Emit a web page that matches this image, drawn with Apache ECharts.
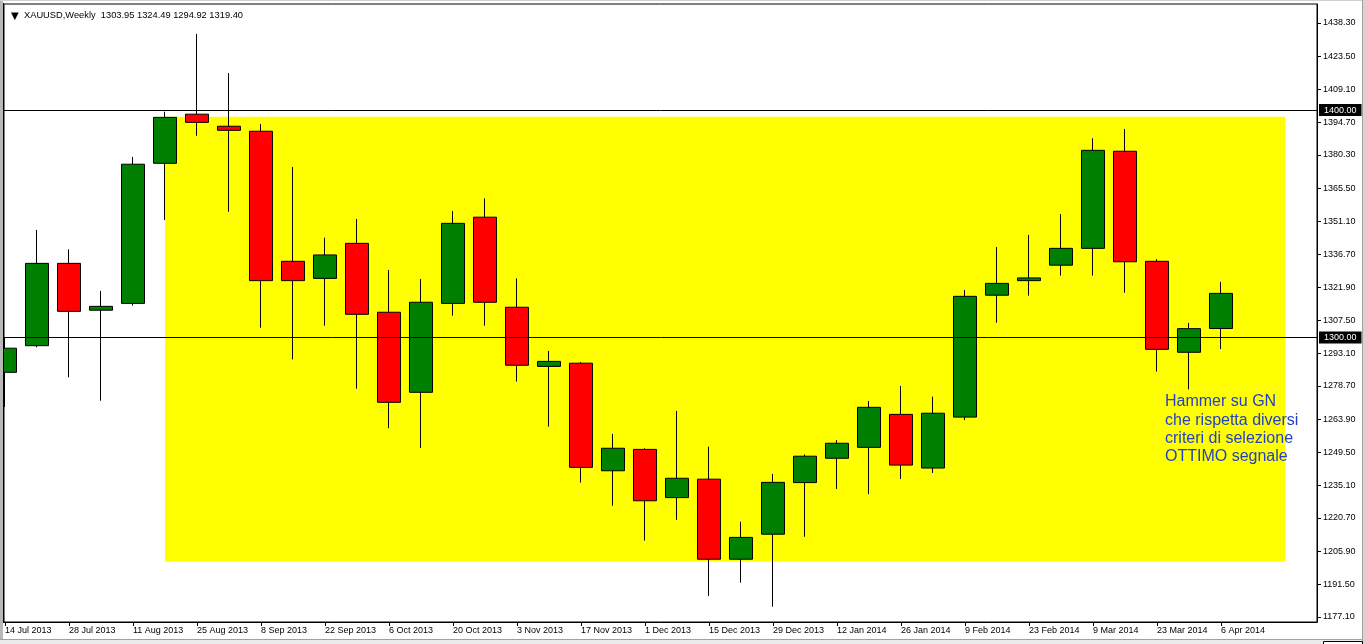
<!DOCTYPE html>
<html><head><meta charset="utf-8">
<script src="https://cdn.jsdelivr.net/npm/echarts@6/dist/echarts.min.js"></script>
<style>html,body{margin:0;padding:0;background:#fff;overflow:hidden}#c{width:1366px;height:644px}</style>
</head><body><div id="c"></div>
<script>
// ---- data ----
const categories = ['14 Jul 2013','21 Jul 2013','28 Jul 2013','4 Aug 2013','11 Aug 2013','18 Aug 2013','25 Aug 2013','1 Sep 2013','8 Sep 2013','15 Sep 2013','22 Sep 2013','29 Sep 2013','6 Oct 2013','13 Oct 2013','20 Oct 2013','27 Oct 2013','3 Nov 2013','10 Nov 2013','17 Nov 2013','24 Nov 2013','1 Dec 2013','8 Dec 2013','15 Dec 2013','22 Dec 2013','29 Dec 2013','5 Jan 2014','12 Jan 2014','19 Jan 2014','26 Jan 2014','2 Feb 2014','9 Feb 2014','16 Feb 2014','23 Feb 2014','2 Mar 2014','9 Mar 2014','16 Mar 2014','23 Mar 2014','30 Mar 2014','6 Apr 2014'];
const opens  = [1284.7,1296.4,1332.6,1312.0,1315.0,1376.6,1398.2,1392.9,1390.7,1333.5,1326.0,1341.4,1311.1,1275.9,1315.0,1352.9,1313.3,1287.3,1288.7,1241.4,1250.8,1229.6,1237.7,1202.5,1213.5,1236.2,1246.9,1251.7,1266.2,1242.6,1265.0,1318.6,1325.0,1331.8,1339.2,1381.9,1333.5,1293.5,1303.95];
const closes = [1295.3,1332.6,1311.5,1313.7,1376.2,1396.8,1394.6,1391.1,1325.0,1325.0,1336.3,1310.2,1271.5,1315.5,1350.2,1315.5,1287.8,1289.5,1242.9,1251.3,1228.2,1238.1,1202.5,1212.1,1236.3,1247.8,1253.5,1269.3,1243.9,1266.7,1318.1,1323.8,1326.2,1339.2,1382.3,1333.3,1294.8,1303.9,1319.40];
const lows   = [1269.4,1295.7,1282.5,1272.2,1314.0,1351.7,1388.7,1355.3,1304.3,1290.4,1305.2,1277.5,1260.1,1251.4,1309.6,1305.2,1280.6,1260.8,1236.2,1226.0,1210.7,1219.8,1186.3,1192.2,1181.6,1212.4,1233.4,1231.1,1237.8,1240.4,1263.7,1306.5,1318.4,1327.2,1327.2,1319.7,1285.0,1277.2,1294.92];
const highs  = [1300.2,1347.3,1338.8,1320.5,1379.4,1399.3,1433.5,1416.3,1393.9,1375.0,1343.9,1352.1,1329.7,1325.7,1355.6,1361.2,1326.0,1294.1,1289.2,1257.6,1251.3,1267.7,1252.0,1219.0,1240.0,1248.6,1254.9,1272.1,1278.7,1274.0,1320.9,1339.8,1345.1,1354.3,1387.6,1391.7,1334.4,1306.4,1324.49];
const yTicks = [1438.30,1423.50,1409.10,1394.70,1380.30,1365.50,1351.10,1336.70,1321.90,1307.50,1293.10,1278.70,1263.90,1249.50,1235.10,1220.70,1205.90,1191.50,1177.10];
const xTickIdx = [0,2,4,6,8,10,12,14,16,18,20,22,24,26,28,30,32,34,36,38];
const levels = [1400.00, 1300.00];
const lastPrice = 1319.40;
const zoneX = [5, 40];
const zoneY = [1397.1, 1201.4];
const noteAt = [36.25, 1275.7];
const noteLines = ['Hammer su GN','che rispetta diversi','criteri di selezione','OTTIMO segnale'];
const headerText = 'XAUUSD,Weekly  1303.95 1324.49 1294.92 1319.40';

// ---- chart ----
const FONT = 'Liberation Sans';
const chart = echarts.init(document.getElementById('c'), null, {renderer:'canvas'});
const candles = categories.map((d,i)=>[i, opens[i], closes[i], lows[i], highs[i]]);

chart.setOption({
  animation:false,
  backgroundColor:'#ffffff',
  title:[
    {text:'▼', left:6, top:6, textStyle:{fontSize:10, fontWeight:'normal', color:'#000', fontFamily:'DejaVu Sans'}},
    {text:headerText, left:19, top:6, textStyle:{fontSize:9.3, fontWeight:'normal', color:'#000', fontFamily:FONT}}
  ],
  grid:{left:4, right:49, top:4, bottom:22, show:true, borderColor:'#000', borderWidth:1, backgroundColor:'transparent'},
  xAxis:{
    type:'value', min:-0.03125, max:41,
    axisLine:{show:true, onZero:false, lineStyle:{color:'#000', width:1}},
    axisTick:{show:true, length:4, inside:false, customValues:xTickIdx, lineStyle:{color:'#000'}},
    axisLabel:{show:true, customValues:xTickIdx, formatter:v=>categories[Math.round(v)]||'', align:'left', margin:4, color:'#000', fontSize:9, fontFamily:FONT},
    splitLine:{show:false}
  },
  yAxis:{
    type:'value', position:'right', min:1174.9, max:1446.65, scale:true,
    axisLine:{show:true, onZero:false, lineStyle:{color:'#000', width:1}},
    axisTick:{show:true, length:4, inside:false, customValues:yTicks, lineStyle:{color:'#000'}},
    axisLabel:{show:true, customValues:yTicks, formatter:v=>Number(v).toFixed(2), margin:6, color:'#000', fontSize:9, fontFamily:FONT},
    splitLine:{show:false}
  },
  series:[
    {
      type:'scatter', data:[], z:1, silent:true,
      markArea:{silent:true, itemStyle:{color:'#ffff00', opacity:1}, data:[[{xAxis:zoneX[0], yAxis:zoneY[0]},{xAxis:zoneX[1], yAxis:zoneY[1]}]]}
    },
    {
      type:'scatter', data:[], z:2, silent:true,
      markLine:{
        silent:true, symbol:'none', animation:false,
        lineStyle:{color:'#000', width:1, type:'solid'},
        label:{show:true, position:'end', distance:2, formatter:p=>Number(p.value).toFixed(2),
          backgroundColor:'#000', color:'#fff', fontSize:9, fontFamily:FONT, padding:[2,5,1,5]},
        data: levels.map(v=>({yAxis:v})).concat([{yAxis:lastPrice, lineStyle:{opacity:0}}])
      }
    },
    {
      type:'candlestick', z:3, data:candles, barWidth:23, clip:true, silent:true,
      itemStyle:{color:'#008000', color0:'#ff0000', borderColor:'#000', borderColor0:'#000', borderWidth:1}
    },
    {
      type:'scatter', data:[], z:4, silent:true,
      markPoint:{
        silent:true, symbol:'circle', symbolSize:0,
        data:[{coord:noteAt, value:0}],
        label:{show:true, position:[0,0], align:'left', verticalAlign:'top', formatter:noteLines.join('\n'),
          color:'#2341c6', fontSize:16, lineHeight:18.3, fontFamily:FONT}
      }
    }
  ],
  graphic:[
    {type:'rect', left:0, top:0, shape:{width:3, height:644}, style:{fill:'#b8b8b8'}, z:100},
    {type:'rect', left:3, top:3, shape:{width:1, height:620}, style:{fill:'#000'}, z:101},
    {type:'rect', left:0, top:0, shape:{width:1366, height:1}, style:{fill:'#d0d0d0'}, z:100},
    {type:'rect', left:1362, top:0, shape:{width:4, height:644}, style:{fill:'#d4d4d4'}, z:100},
    {type:'rect', left:1362, top:0, shape:{width:1, height:644}, style:{fill:'#a0a0a0'}, z:101},
    {type:'rect', left:0, top:639, shape:{width:1362, height:1}, style:{fill:'#a0a0a0'}, z:100},
    {type:'rect', left:0, top:640, shape:{width:1362, height:4}, style:{fill:'#ececec'}, z:100},
    {type:'rect', left:1323, top:641, shape:{width:39, height:5}, style:{fill:'#ffffff', stroke:'#000', lineWidth:1}, z:101}
  ]
});
</script>
</body></html>
